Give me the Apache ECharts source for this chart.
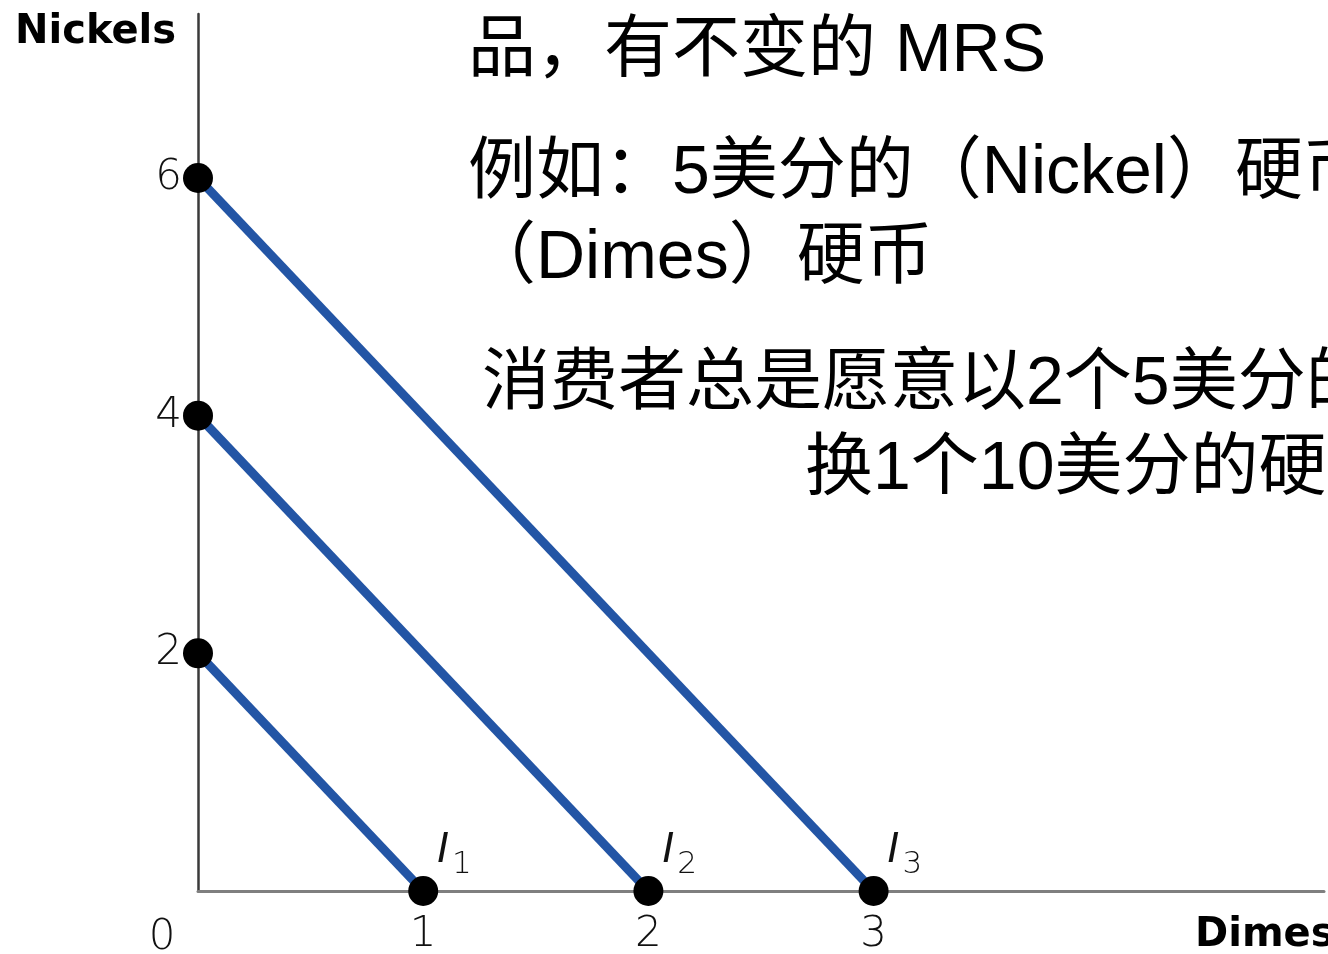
<!DOCTYPE html>
<html>
<head>
<meta charset="utf-8">
<script src="https://cdn.jsdelivr.net/npm/echarts@6/dist/echarts.min.js"></script>
<style>html,body{margin:0;padding:0;background:#fff;}#c{width:1328px;height:954px;}</style>
</head>
<body>
<div id="c"></div>
<script>
// ---- data ----
const curveIds = ['1', '2', '3'];
const nickelIntercepts = [2, 4, 6];
const dimeIntercepts = [1, 2, 3];
const xTickLabels = ['1', '2', '3'];
const yTickLabels = ['2', '4', '6'];
const xAxisName = 'Dimes';
const yAxisName = 'Nickels';
const textLines = [
  '品，有不变的 MRS',
  '例如：5美分的（Nickel）硬币和10美分的',
  '（Dimes）硬币',
  '消费者总是愿意以2个5美分的硬币交',
  '换1个10美分的硬币'
];

const chart = echarts.init(document.getElementById('c'), null, {renderer: 'canvas'});
const tickFont = "'DejaVu Sans', sans-serif";
const textFont = "'Liberation Sans', 'Noto Sans CJK SC', sans-serif";

const series = curveIds.map((id, i) => ({
  type: 'line',
  data: [
    [0, nickelIntercepts[i]],
    {
      value: [dimeIntercepts[i], 0],
      label: {
        show: true,
        position: [29, 4],
        align: 'left',
        verticalAlign: 'bottom',
        formatter: '{i|I}{s|' + id + '}',
        rich: {
          i: {fontFamily: tickFont, fontStyle: 'italic', fontWeight: 'normal', fontSize: 40, color: '#111', verticalAlign: 'bottom', lineHeight: 46, padding: [0, 3, 8, 0]},
          s: {fontFamily: tickFont, fontWeight: 200, fontSize: 31, color: '#111', verticalAlign: 'bottom', lineHeight: 46}
        }
      }
    }
  ],
  symbol: 'circle',
  symbolSize: 30,
  itemStyle: {color: '#000'},
  lineStyle: {color: '#2355a5', width: 9},
  z: 3,
  animation: false
}));

const option = {
  animation: false,
  backgroundColor: '#fff',
  grid: {left: 198, top: 14, width: 1126, height: 877, containLabel: false, outerBoundsMode: 'none'},
  xAxis: {
    type: 'value', min: 0, max: 5, interval: 1,
    axisLine: {show: true, lineStyle: {color: '#7f7f7f', width: 3}},
    axisTick: {show: false},
    splitLine: {show: false},
    axisLabel: {
      margin: 23, fontFamily: tickFont, fontWeight: 200, fontSize: 42, color: '#111',
      formatter: v => xTickLabels.includes(String(v)) ? String(v) : ''
    }
  },
  yAxis: {
    type: 'value', min: 0, max: 7.38, interval: 2,
    axisLine: {show: true, lineStyle: {color: '#3a3a3a', width: 2.5}},
    axisTick: {show: false},
    splitLine: {show: false},
    axisLabel: {
      margin: 16, fontFamily: tickFont, fontWeight: 200, fontSize: 42, color: '#111', showMaxLabel: false,
      padding: [6, 0, 0, 0],
      formatter: v => yTickLabels.includes(String(v)) ? String(v) : ''
    }
  },
  graphic: [
    {type: 'text', left: 15, top: 13, z: 10, style: {text: yAxisName, font: "bold 40px 'DejaVu Sans', sans-serif", fill: '#000'}},
    {type: 'text', x: 1195, y: 916, z: 10, style: {text: xAxisName, font: "bold 40px 'DejaVu Sans', sans-serif", fill: '#000'}},
    {type: 'text', x: 162, y: 938, z: 10, style: {text: '0', font: "200 42px 'DejaVu Sans', sans-serif", fill: '#111', textAlign: 'center', textVerticalAlign: 'middle'}},
    {type: 'text', x: 468, y: 52, z: 10, style: {text: textLines[0], font: '68px ' + textFont, fill: '#000', textAlign: 'left', textVerticalAlign: 'middle'}},
    {type: 'text', x: 468, y: 174, z: 10, style: {text: textLines[1], font: '68px ' + textFont, fill: '#000', textAlign: 'left', textVerticalAlign: 'middle'}},
    {type: 'text', x: 468, y: 259, z: 10, style: {text: textLines[2], font: '68px ' + textFont, fill: '#000', textAlign: 'left', textVerticalAlign: 'middle'}},
    {type: 'text', x: 482, y: 385, z: 10, style: {text: textLines[3], font: '68px ' + textFont, fill: '#000', textAlign: 'left', textVerticalAlign: 'middle'}},
    {type: 'text', x: 805, y: 470, z: 10, style: {text: textLines[4], font: '68px ' + textFont, fill: '#000', textAlign: 'left', textVerticalAlign: 'middle'}}
  ],
  series: series
};
chart.setOption(option);
</script>
</body>
</html>
